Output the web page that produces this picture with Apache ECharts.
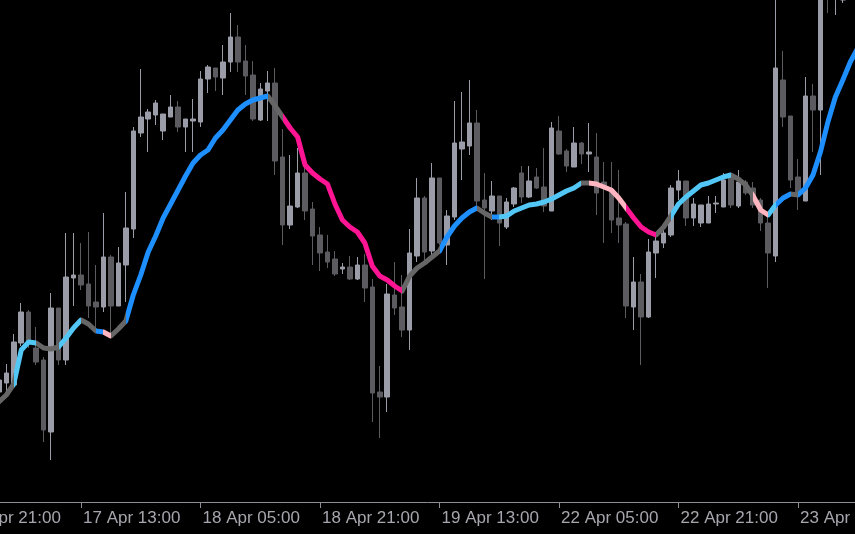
<!DOCTYPE html>
<html><head><meta charset="utf-8">
<script src="https://cdn.jsdelivr.net/npm/echarts@6/dist/echarts.min.js"></script>
<style>html,body{margin:0;padding:0;background:#000;}#c{width:855px;height:534px;}</style>
</head><body><div id="c"></div>
<script>
// Hourly sessions shown on the time axis: [day, first hour, last hour] (weekend 20-21 Apr skipped)
const sessions = [[16,21,23],[17,0,23],[18,0,23],[19,0,23],[22,0,23],[23,0,21]];
// first bar that carries data (earlier bars are off-screen)
const firstBar = 5;
// Candles [open, close, low, high] (price units of the hidden scale)
const candles = [
 [608,620,604,623],[617,627,608,636],[615,658,612,666],[657,688,654,697],[688,658,652,690],
 [652,638,635,673],[640,570,558,643],[568,692,540,707],[692,640,635,692],[640,723,635,767],
 [722,725,694,767],[725,715,710,757],[716,694,682,768],[698,693,672,735],[693,743,688,787],
 [743,694,664,745],[694,737,694,753],[735,772,698,808],[771,869,762,873],[867,883,863,931],
 [881,888,848,891],[885,897,875,900],[869,886,860,886],[883,893,883,905],[893,873,868,899],
 [873,881,848,881],[879,881,848,901],[878,921,873,929],[921,933,907,935],[932,923,909,932],
 [922,938,905,955],[938,963,928,987],[963,938,928,975],[939,924,905,955],[925,881,879,939],
 [880,911,879,917],[909,917,879,929],[917,839,825,932],[843,775,755,871],[775,794,771,845],
 [793,827,792,852],[827,789,780,833],[791,764,735,798],[765,747,729,773],[748,738,732,765],
 [741,726,724,749],[731,733,726,737],[733,721,720,744],[721,735,720,743],[735,712,698,746],
 [713,607,578,721],[608,603,562,634],[603,706,588,716],[705,692,685,738],[693,670,663,725],
 [670,747,650,771],[744,802,738,822],[802,748,740,804],[749,822,745,837],[822,757,755,822],
 [755,784,735,790],[783,857,780,899],[851,858,820,908],[854,877,845,920],[877,799,793,890],
 [800,792,721,827],[789,804,780,819],[804,777,754,804],[773,798,771,802],[796,812,793,813],
 [827,803,797,834],[803,819,802,834],[823,812,811,832],[813,794,788,852],[789,872,789,878],
 [869,846,845,884],[849,834,828,851],[833,857,833,873],[857,846,836,858],[846,848,828,877],
 [843,807,785,867],[818,812,757,838],[808,780,767,838],[782,775,757,830],[776,694,682,778],
 [693,718,670,743],[718,683,635,726],[683,748,682,761],[747,759,722,767],[757,767,752,777],
 [765,812,763,815],[810,819,800,830],[819,782,774,819],[782,796,774,802],[777,795,773,795],
 [777,796,777,804],[796,797,787,804],[793,820,793,827],[823,795,792,827],[794,818,792,830],
 [818,807,805,820],[812,795,792,818],[800,777,769,802],[777,747,712,785],[744,932,738,1020],
 [920,883,873,949],[884,820,812,884],[823,806,790,841],[799,904,799,923],[904,890,848,916],
 [890,1005,825,1020],[1030,1005,987,1040],[1005,1030,985,1040],[1000,1020,997,1030],[1020,1040,1010,1050],
 [1030,1050,1020,1060]
];
// Smoothed moving-average line values
const maLine = [
 598,605,616,650,658,657,652,651,653,662,672,680,676,669,668,664,671,679,705,725,
 748,764,782,796,810,824,837,845,850,862,870,880,890,896,900,902,904,894,883,872,
 863,835,827,821,816,796,780,773,768,757,734,724,720,714,709,724,732,737,743,749,
 763,774,782,788,792,787,783,783,784,789,792,795,796,798,801,805,809,812,817,817,
 816,813,810,802,792,782,773,768,765,773,784,796,803,809,815,817,820,823,825,821,
 815,804,790,785,795,802,806,805,812,825,848,878,903,920,938,952
];
// Trend colouring of the line: [from bar, to bar, state]
const segments = [
 [5,6.9,'flat'],[6.9,9.5,'upWeak'],[9.5,12.7,'flat'],[12.7,16.0,'upWeak'],[16.0,17.8,'flat'],
 [17.8,18.6,'up'],[18.6,19.7,'downWeak'],[19.7,21.9,'flat'],[21.9,40.9,'up'],[40.9,42.7,'flat'],
 [42.7,58.8,'down'],[58.8,63.7,'flat'],[63.7,68.6,'up'],[68.6,70.5,'flat'],[70.5,72.4,'up'],
 [72.4,82.9,'upWeak'],[82.9,83.7,'flat'],[83.7,88.6,'downWeak'],[88.6,92.7,'down'],[92.7,94.7,'flat'],
 [94.7,102.6,'upWeak'],[102.6,106.4,'flat'],[106.4,107.6,'downWeak'],[107.6,109.1,'upWeak'],
 [109.1,110.9,'up'],[110.9,111.8,'flat'],[111.8,121,'up']
];
const stateColors = {flat:'#666666', up:'#1E8FFF', upWeak:'#52C7F5', down:'#FF1493', downWeak:'#FFB6C1'};

const categories = [];
sessions.forEach(([d, h0, h1]) => {
  for (let h = h0; h <= h1; h++) categories.push(d + ' Apr ' + String(h).padStart(2,'0') + ':00');
});
const pad = n => Array(n).fill('-');
const candleData = pad(firstBar).map(() => ['-','-','-','-']).concat(candles);
const maData = pad(firstBar).concat(maLine);

const n = categories.length;
const step = 7.469;
const x0 = 81 - 16 * step;
const gridLeft = x0 - step / 2;
const gridRight = 855 - (gridLeft + n * step);

const chart = echarts.init(document.getElementById('c'), null, {renderer:'canvas'});
chart.setOption({
  animation: false,
  backgroundColor: '#000000',
  grid: {left: gridLeft, right: gridRight, top: 0, bottom: 32, containLabel: false, outerBoundsMode: 'none'},
  xAxis: {
    type: 'category', data: categories, boundaryGap: true,
    axisLine: {show: true, lineStyle: {color: '#8E8E96', width: 1}},
    axisTick: {show: true, interval: 15, alignWithLabel: true, length: 6, lineStyle: {color: '#8E8E96'}},
    axisLabel: {interval: 15, align: 'left', margin: 8, padding: [0,0,0,2], color: '#A6A6AE',
      fontFamily: 'Liberation Sans', fontSize: 17, hideOverlap: false},
    splitLine: {show: false}
  },
  yAxis: {type: 'value', min: 498, max: 1000, show: false, splitLine: {show: false}},
  visualMap: {
    show: false, type: 'piecewise', seriesIndex: 1, dimension: 0,
    pieces: segments.map(([a, b, k]) => ({gte: a, lt: b, color: stateColors[k]})),
    outOfRange: {color: '#666666'}
  },
  series: [
    {type: 'candlestick', data: candleData, barWidth: 5, clip: true,
     itemStyle: {color: '#9A9DA7', color0: '#5B5B60', borderColor: '#9A9DA7', borderColor0: '#5B5B60', borderWidth: 1}},
    {type: 'line', data: maData, showSymbol: false, symbol: 'none', smooth: false, z: 5,
     lineStyle: {width: 5, join: 'round', cap: 'round'}}
  ]
});
</script></body></html>
